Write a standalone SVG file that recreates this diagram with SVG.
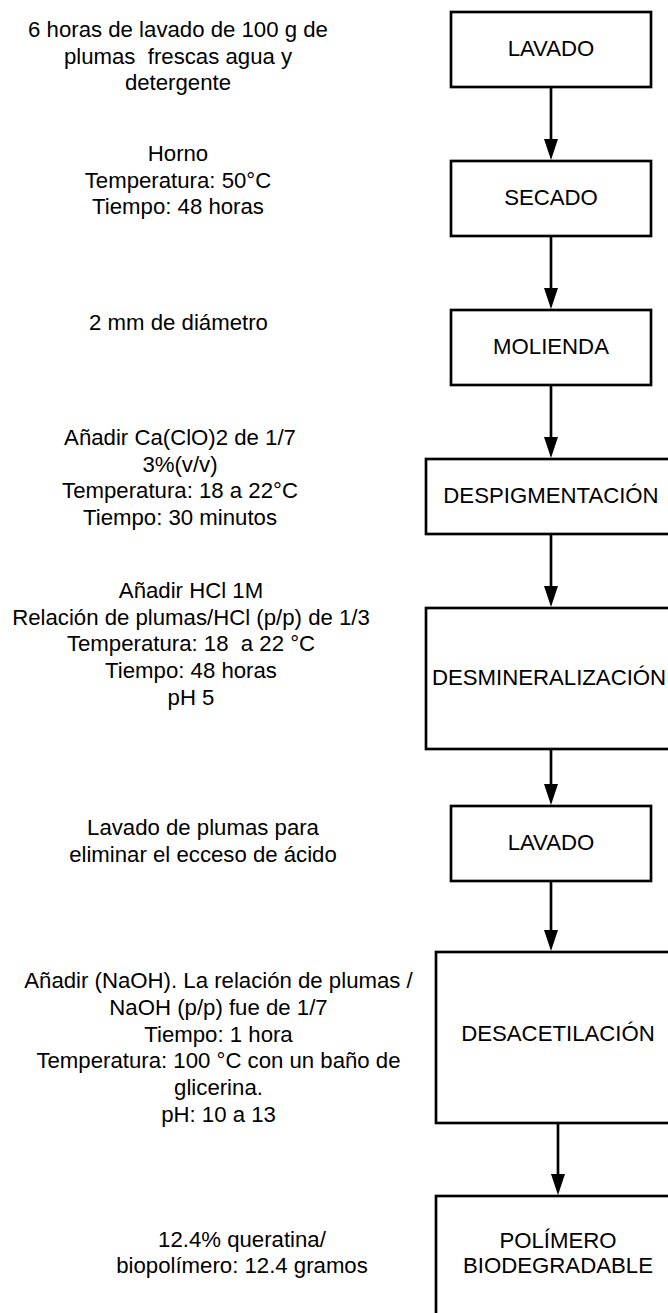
<svg xmlns="http://www.w3.org/2000/svg" width="668" height="1313" viewBox="0 0 668 1313">
<style>
.box{fill:#fff;stroke:#000;stroke-width:2.67}
.t{font-family:"Liberation Sans",Arial,sans-serif;font-size:22.2px;fill:#000;text-anchor:middle;white-space:pre}
.c{fill:none;stroke:#000;stroke-width:2.67;marker-end:url(#ah)}
</style>
<defs>
<marker id="ah" markerUnits="userSpaceOnUse" markerWidth="21" markerHeight="14" refX="11" refY="7" orient="auto" viewBox="0 0 21 14">
<path d="M0,0 L21,7 L0,14 Z" fill="#000"/>
</marker>
</defs>
<rect width="668" height="1313" fill="#fff"/>
<g id="connectors">
<line class="c" x1="551" y1="87" x2="551" y2="150"/>
<line class="c" x1="551" y1="236" x2="551" y2="299"/>
<line class="c" x1="551" y1="385" x2="551" y2="448"/>
<line class="c" x1="551" y1="534" x2="551" y2="597"/>
<line class="c" x1="551" y1="749" x2="551" y2="795"/>
<line class="c" x1="551" y1="881" x2="551" y2="941"/>
<line class="c" x1="558" y1="1123" x2="558" y2="1185"/>
</g>
<g id="n1"><rect class="box" x="451" y="12" width="200" height="75"/><text class="t" x="551" y="56">LAVADO</text></g>
<g id="n2"><rect class="box" x="451" y="161" width="200" height="75"/><text class="t" x="551" y="205">SECADO</text></g>
<g id="n3"><rect class="box" x="451" y="310" width="200" height="75"/><text class="t" x="551" y="354">MOLIENDA</text></g>
<g id="n4"><rect class="box" x="426" y="459" width="250" height="75"/><text class="t" x="551" y="503">DESPIGMENTACIÓN</text></g>
<g id="n5"><rect class="box" x="426" y="608" width="250" height="141"/><text class="t" x="549" y="685">DESMINERALIZACIÓN</text></g>
<g id="n6"><rect class="box" x="451" y="806" width="200" height="75"/><text class="t" x="551" y="850">LAVADO</text></g>
<g id="n7"><rect class="box" x="436" y="952" width="244" height="171"/><text class="t" x="558" y="1041">DESACETILACIÓN</text></g>
<g id="n8"><rect class="box" x="436" y="1196" width="244" height="140"/><text class="t" x="558" y="1248">POLÍMERO</text><text class="t" x="558" y="1273">BIODEGRADABLE</text></g>
<g id="notes">
<text class="t" x="178" y="37">6 horas de lavado de 100 g de</text>
<text class="t" x="178" y="63.5" xml:space="preserve">plumas  frescas agua y</text>
<text class="t" x="178" y="90">detergente</text>
<text class="t" x="178" y="161">Horno</text>
<text class="t" x="178" y="187.5">Temperatura: 50°C</text>
<text class="t" x="178" y="214">Tiempo: 48 horas</text>
<text class="t" x="178.5" y="329.5">2 mm de diámetro</text>
<text class="t" x="180" y="445">Añadir Ca(ClO)2 de 1/7</text>
<text class="t" x="180" y="471.7">3%(v/v)</text>
<text class="t" x="180" y="498.3">Temperatura: 18 a 22°C</text>
<text class="t" x="180" y="525">Tiempo: 30 minutos</text>
<text class="t" x="191" y="598">Añadir HCl 1M</text>
<text class="t" x="191" y="624.7">Relación de plumas/HCl (p/p) de 1/3</text>
<text class="t" x="191" y="651.3" xml:space="preserve">Temperatura: 18  a 22 °C</text>
<text class="t" x="191" y="678">Tiempo: 48 horas</text>
<text class="t" x="191" y="704.7">pH 5</text>
<text class="t" x="203" y="835">Lavado de plumas para</text>
<text class="t" x="203" y="861.7">eliminar el ecceso de ácido</text>
<text class="t" x="218.5" y="988.3">Añadir (NaOH). La relación de plumas /</text>
<text class="t" x="218.5" y="1015">NaOH (p/p) fue de 1/7</text>
<text class="t" x="218.5" y="1041.7">Tiempo: 1 hora</text>
<text class="t" x="218.5" y="1068.3">Temperatura: 100 °C con un baño de</text>
<text class="t" x="218.5" y="1095">glicerina.</text>
<text class="t" x="218.5" y="1121.7">pH: 10 a 13</text>
<text class="t" x="242" y="1246.7">12.4% queratina/</text>
<text class="t" x="242" y="1273.3">biopolímero: 12.4 gramos</text>
</g>
</svg>
